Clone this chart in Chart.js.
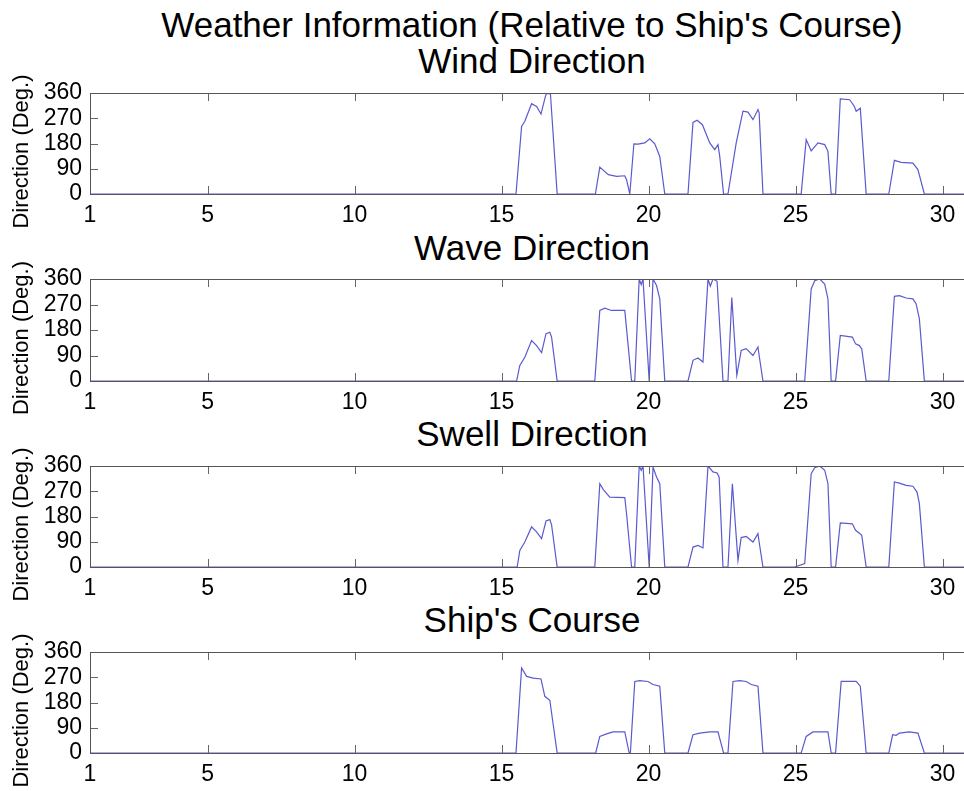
<!DOCTYPE html>
<html>
<head>
<meta charset="utf-8">
<script src="https://cdn.jsdelivr.net/npm/chart.js@4.4.1/dist/chart.umd.min.js"></script>
<style>
  body { margin: 0; background: #fff; overflow: hidden; width: 964px; height: 791px; position: relative; }
  .ttl { position: absolute; left: 0; width: 1064px; text-align: center; font-family: "Liberation Sans", Arial, sans-serif;
         font-size: 35px; line-height: 35px; color: #000; white-space: nowrap; }
  .panel { position: absolute; left: 0; }
</style>
</head>
<body>
<div class="ttl" style="top:7px">Weather Information (Relative to Ship's Course)</div>
<div class="ttl" style="top:43px">Wind Direction</div>
<div class="ttl" style="top:230px">Wave Direction</div>
<div class="ttl" style="top:416px">Swell Direction</div>
<div class="ttl" style="top:602px">Ship's Course</div>

<div class="panel" style="top:53px"><canvas id="wind" width="1000" height="181"></canvas></div>
<div class="panel" style="top:239px"><canvas id="wave" width="1000" height="182"></canvas></div>
<div class="panel" style="top:426px"><canvas id="swell" width="1000" height="181"></canvas></div>
<div class="panel" style="top:612px"><canvas id="course" width="1000" height="181"></canvas></div>

<script>
// day of month (x) and direction in degrees (y)
const windDays = [1, 15.49, 15.68, 15.79, 16.02, 16.19, 16.34, 16.49, 16.53, 16.66,
  16.89, 18.19, 18.34, 18.63, 18.91, 19.19, 19.25, 19.36, 19.5, 19.64,
  19.87, 20.04, 20.21, 20.38, 20.55, 21.34, 21.51, 21.65, 21.83, 22.08,
  22.25, 22.36, 22.42, 22.55, 22.70, 22.98, 23.21, 23.38, 23.55, 23.72,
  23.76, 23.89, 25.19, 25.36, 25.53, 25.76, 25.99, 26.1, 26.21, 26.36,
  26.52, 26.84, 27.0, 27.06, 27.2, 27.4, 28.17, 28.36, 28.59, 28.99,
  29.16, 29.38, 31];
const windDeg = [0, 0, 241, 259, 322, 312, 285, 348, 358, 358,
  0, 0, 96, 69, 63, 65, 51, 0, 179, 178,
  182, 197, 179, 134, 0, 0, 255, 263, 247, 182,
  158, 176, 134, 0, 0, 182, 295, 292, 265, 301,
  289, 0, 0, 194, 154, 182, 176, 152, 0, 0,
  339, 336, 312, 295, 306, 0, 0, 120, 113, 110,
  87, 0, 0];

const waveDays = [1, 15.51, 15.62, 15.79, 16.02, 16.19, 16.36, 16.51, 16.64, 16.7,
  16.89, 18.17, 18.34, 18.51, 18.74, 19.19, 19.25, 19.42, 19.53, 19.68,
  19.75, 19.81, 20.02, 20.15, 20.27, 20.38, 20.55, 21.34, 21.51, 21.68,
  21.85, 22.02, 22.1, 22.19, 22.33, 22.53, 22.70, 22.83, 23.0, 23.15,
  23.32, 23.55, 23.72, 23.76, 23.89, 25.31, 25.53, 25.65, 25.82, 25.99,
  26.1, 26.21, 26.36, 26.52, 26.93, 27.04, 27.17, 27.25, 27.4, 28.17,
  28.36, 28.53, 28.76, 28.99, 29.1, 29.21, 29.38, 31];
const waveDeg = [0, 0, 55, 84, 143, 125, 100, 167, 172, 155,
  0, 0, 249, 257, 249, 249, 184, 0, 0, 360,
  340, 360, 0, 360, 337, 290, 0, 0, 73, 81,
  67, 360, 335, 360, 352, 0, 0, 295, 20, 108,
  114, 90, 120, 90, 0, 0, 325, 354, 360, 342,
  290, 0, 0, 161, 155, 131, 125, 113, 0, 0,
  299, 301, 293, 290, 272, 219, 0, 0];

const swellDays = [1, 15.53, 15.62, 15.79, 16.02, 16.19, 16.36, 16.51, 16.64, 16.7,
  16.89, 18.17, 18.34, 18.46, 18.68, 19.19, 19.25, 19.42, 19.53, 19.68,
  19.75, 19.81, 20.02, 20.15, 20.27, 20.38, 20.55, 21.34, 21.51, 21.68,
  21.85, 22.02, 22.19, 22.33, 22.4, 22.53, 22.70, 22.85, 23.04, 23.15,
  23.32, 23.55, 23.72, 23.76, 23.89, 24.97, 25.31, 25.53, 25.65, 25.82,
  25.99, 26.1, 26.21, 26.36, 26.52, 26.93, 27.04, 27.17, 27.25, 27.4,
  28.17, 28.36, 28.53, 28.76, 28.99, 29.13, 29.21, 29.38, 31];
const swellDeg = [0, 0, 59, 89, 143, 125, 101, 164, 169, 150,
  0, 0, 297, 276, 249, 247, 190, 0, 0, 360,
  345, 360, 0, 356, 321, 297, 0, 0, 71, 77,
  68, 360, 339, 335, 320, 0, 0, 297, 24, 105,
  109, 89, 119, 89, 0, 0, 12, 333, 354, 360,
  345, 297, 0, 0, 157, 154, 131, 120, 113, 0,
  0, 303, 299, 291, 288, 267, 226, 0, 0];

const courseDays = [1, 15.49, 15.68, 15.85, 16.08, 16.34, 16.47, 16.64, 16.89, 18.2,
  18.34, 18.57, 18.79, 19.19, 19.34, 19.38, 19.53, 19.70, 19.98, 20.15,
  20.38, 20.55, 21.34, 21.51, 21.74, 22.08, 22.36, 22.55, 22.70, 22.87,
  23.10, 23.32, 23.49, 23.72, 23.89, 25.19, 25.36, 25.59, 26.1, 26.21,
  26.36, 26.55, 27.06, 27.2, 27.4, 28.17, 28.3, 28.42, 28.53, 28.87,
  29.16, 29.38, 31];
const courseDeg = [0, 0, 303, 273, 267, 264, 202, 188, 0, 0,
  59, 68, 75, 75, 0, 0, 255, 258, 255, 244,
  238, 0, 0, 65, 71, 75, 75, 0, 0, 255,
  258, 255, 244, 238, 0, 0, 59, 75, 75, 0,
  0, 255, 255, 238, 0, 0, 65, 63, 71, 75,
  71, 0, 0];

const xTicks = [1, 5, 10, 15, 20, 25, 30];
const yTicks = [0, 90, 180, 270, 360];
const yLabel = 'Direction (Deg.)';

const FONT = '"Liberation Sans", Arial, sans-serif';
Chart.defaults.color = '#000';
Chart.defaults.font.family = FONT;

// matlab style box with inward ticks, plus the y label (sits a bit below centre like the original)
const boxTicks = {
  id: 'boxTicks',
  afterDraw(chart) {
    const ctx = chart.ctx;
    const a = chart.chartArea;
    const x = chart.scales.x, y = chart.scales.y;
    ctx.save();
    ctx.strokeStyle = '#666';
    ctx.lineWidth = 1;
    ctx.beginPath();
    xTicks.forEach(v => {
      const px = Math.round(x.getPixelForValue(v)) + 0.5;
      ctx.moveTo(px, a.bottom); ctx.lineTo(px, a.bottom - 8);
      ctx.moveTo(px, a.top); ctx.lineTo(px, a.top + 8);
    });
    yTicks.forEach(v => {
      const py = Math.round(y.getPixelForValue(v)) + 0.5;
      ctx.moveTo(a.left, py); ctx.lineTo(a.left + 8, py);
      ctx.moveTo(a.right, py); ctx.lineTo(a.right - 8, py);
    });
    ctx.stroke();
    ctx.strokeStyle = '#555';
    ctx.strokeRect(Math.round(a.left) + 0.5, Math.round(a.top) + 0.5, Math.round(a.width), Math.round(a.height));

    ctx.translate(22, (a.top + a.bottom) / 2 + 8);
    ctx.rotate(-Math.PI / 2);
    ctx.fillStyle = '#000';
    ctx.font = '22px ' + FONT;
    ctx.textAlign = 'center';
    ctx.textBaseline = 'middle';
    ctx.fillText(yLabel, 0, 0);
    ctx.restore();
  }
};

function makePanel(id, days, deg) {
  return new Chart(document.getElementById(id), {
    type: 'line',
    data: {
      datasets: [{
        data: days.map((d, i) => ({ x: d, y: deg[i] })),
        borderColor: '#5a5ad0',
        borderWidth: 1.2,
        pointRadius: 0,
        tension: 0,
        fill: false
      }]
    },
    options: {
      responsive: false,
      animation: false,
      devicePixelRatio: 1,
      layout: { padding: { top: 40, right: 28, left: 0, bottom: 0 } },
      plugins: { legend: { display: false }, title: { display: false }, tooltip: { enabled: false } },
      scales: {
        x: {
          type: 'linear', min: 1, max: 31,
          grid: { display: false, drawTicks: false },
          border: { display: false },
          afterBuildTicks: s => { s.ticks = xTicks.map(v => ({ value: v })); },
          afterFit: s => { s.height = 40; },
          ticks: { padding: 8, maxRotation: 0, autoSkip: false, font: { size: 23 } }
        },
        y: {
          min: 0, max: 360,
          grid: { display: false, drawTicks: false },
          border: { display: false },
          afterBuildTicks: s => { s.ticks = yTicks.map(v => ({ value: v })); },
          afterFit: s => { s.width = 90; },
          ticks: { padding: 8, autoSkip: false, font: { size: 23 } }
        }
      }
    },
    plugins: [boxTicks]
  });
}

makePanel('wind', windDays, windDeg);
makePanel('wave', waveDays, waveDeg);
makePanel('swell', swellDays, swellDeg);
makePanel('course', courseDays, courseDeg);
</script>
</body>
</html>
